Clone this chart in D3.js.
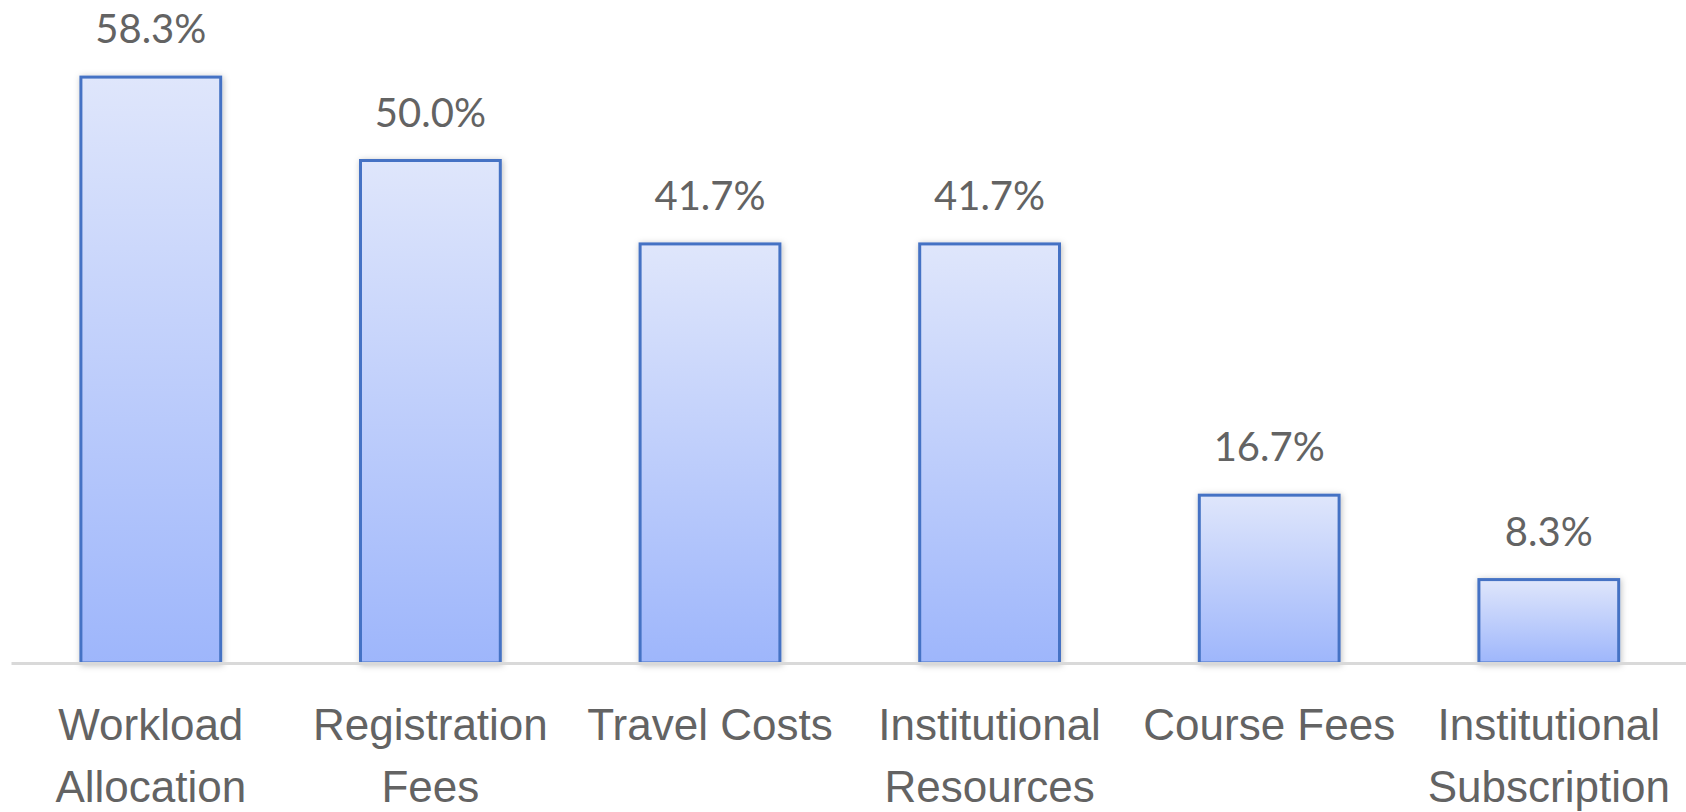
<!DOCTYPE html>
<meta charset="utf-8">
<script src="https://d3js.org/d3.v7.min.js"></script>
<style>
  html, body { margin: 0; padding: 0; background: #fff; }
  #chart { font-family: Lato, "Open Sans", sans-serif; }
</style>
<div id="chart"></div>
<script>
// data
var categories = ["Workload Allocation", "Registration Fees", "Travel Costs",
                  "Institutional Resources", "Course Fees", "Institutional Subscription"];
var tickLines = [["Workload", "Allocation"], ["Registration", "Fees"], ["Travel Costs"],
                 ["Institutional", "Resources"], ["Course Fees"], ["Institutional", "Subscription"]];
var values = [58.3, 50.0, 41.7, 41.7, 16.7, 8.3];
var valueLabels = ["58.3%", "50.0%", "41.7%", "41.7%", "16.7%", "8.3%"];

var W = 1686, H = 812;
var baseY = 663;

var svg = d3.select("#chart").append("svg")
    .attr("width", W)
    .attr("height", H);

var defs = svg.append("defs");
var grad = defs.append("linearGradient")
    .attr("id", "barGrad")
    .attr("x1", 0).attr("y1", 0).attr("x2", 0).attr("y2", 1);
grad.append("stop").attr("offset", "0%").attr("stop-color", "#dfe6fb");
grad.append("stop").attr("offset", "100%").attr("stop-color", "#9eb6fb");

var shadow = defs.append("filter").attr("id", "shadow")
    .attr("x", "-20%").attr("y", "-20%").attr("width", "140%").attr("height", "140%");
shadow.append("feDropShadow")
    .attr("dx", 1).attr("dy", 1)
    .attr("stdDeviation", 3)
    .attr("flood-color", "#000")
    .attr("flood-opacity", 0.25);

var x = d3.scaleBand()
    .domain(categories)
    .range([11, 11 + 6 * 279.6])
    .paddingInner(0.5)
    .paddingOuter(0.25);

var y = d3.scaleLinear()
    .domain([0, 60])
    .range([baseY, 60]);

// bars
svg.selectAll(".bar")
    .data(values)
    .enter()
    .append("rect")
    .attr("class", "bar")
    .attr("x", function(d, i) { return x(categories[i]); })
    .attr("y", function(d) { return y(d); })
    .attr("width", x.bandwidth())
    .attr("height", function(d) { return y(0) - y(d); })
    .attr("fill", "url(#barGrad)")
    .attr("stroke", "#4472c4")
    .attr("stroke-width", 3)
    .attr("filter", "url(#shadow)");

// x axis
var axis = svg.append("g")
    .attr("transform", "translate(0," + baseY + ")")
    .call(d3.axisBottom(x).tickSize(0).tickSizeOuter(0).tickFormat(""));
axis.select(".domain")
    .attr("stroke", "#d9d9d9")
    .attr("stroke-width", 3);

axis.selectAll(".tick text").remove();
axis.selectAll(".tick").each(function(d, i) {
    var t = d3.select(this).append("text")
        .attr("text-anchor", "middle")
        .attr("fill", "#636363")
        .style("font-size", "44px");
    tickLines[i].forEach(function(line, j) {
        t.append("tspan")
            .attr("x", 0)
            .attr("y", 77 + j * 62)
            .text(line);
    });
});

// value labels
svg.selectAll(".val")
    .data(values)
    .enter()
    .append("text")
    .attr("class", "val")
    .attr("text-anchor", "middle")
    .attr("x", function(d, i) { return x(categories[i]) + x.bandwidth() / 2; })
    .attr("y", function(d) { return y(d) - 34; })
    .attr("fill", "#636363")
    .style("font-size", "40px")
    .text(function(d, i) { return valueLabels[i]; });
</script>
